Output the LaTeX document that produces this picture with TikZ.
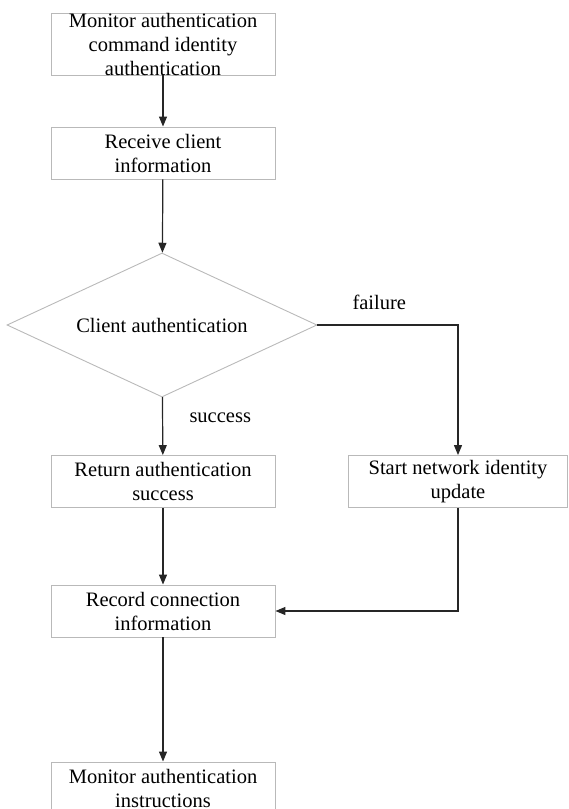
\documentclass[tikz,border=0pt]{standalone}
\usepackage{fontspec}
\setmainfont{Liberation Serif}
\usepackage{tikz}
\usetikzlibrary{shapes,arrows,positioning,calc,arrows.meta}

\begin{document}
\begin{tikzpicture}[x=1pt,y=-1pt,
    txt/.style={font=\fontsize{20.5}{24}\selectfont},
    box/.style={txt, draw=gray!55, line width=0.9pt, rectangle, minimum width=224pt, minimum height=52pt, inner sep=0pt, align=center},
    dec/.style={txt, draw=gray!55, line width=0.9pt, diamond, aspect=2.15, minimum width=310pt, minimum height=144pt, inner sep=0pt},
    arr/.style={-{Triangle[length=10pt,width=8pt]}, line width=1.2pt, draw=black!85}]
    \useasboundingbox (0,0) rectangle (568,809);
    \node[box, minimum height=62pt, label={[txt,align=center]center:Monitor authentication\\command identity\\authentication}] (mon) at (163,44) {};
    \node[box] (recv) at (163,153) {Receive client\\information};
    \node[dec] (auth) at (162,325) {Client authentication};
    \node[box] (ret) at (163,481.5) {Return authentication\\success};
    \node[box, minimum width=219pt] (upd) at (458,481.5) {Start network identity\\update};
    \node[box] (rec) at (163,611) {Record connection\\information};
    \node[box] (fin) at (163,788) {Monitor authentication\\instructions};
    \draw[arr] (mon) -- (recv);
    \draw[arr] (recv) -- (auth);
    \draw[arr] (auth.east) -| node[txt, pos=0.22, above=11pt] (fail) {failure} (upd.north);
    \draw[arr] (auth) -- node[txt, pos=0.35, right=23pt] (succ) {success} (ret);
    \draw[arr] (ret) -- (rec);
    \draw[arr] (upd.south) |- (rec.east);
    \draw[arr] (rec) -- (fin);
\end{tikzpicture}
\end{document}
